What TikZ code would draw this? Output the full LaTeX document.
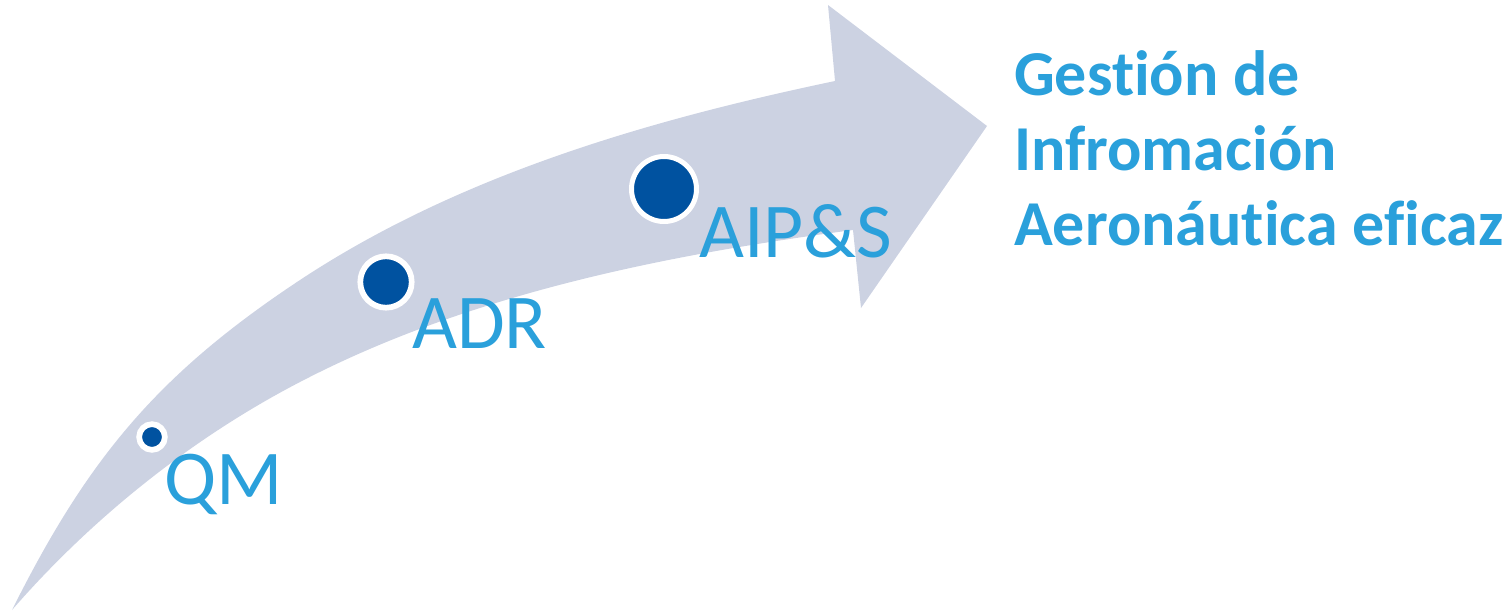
\documentclass[tikz,border=0pt]{standalone}
\usepackage{fontspec}
\setmainfont{Carlito}[Ligatures={TeX,NoCommon}]
\definecolor{arrowfill}{RGB}{204,210,226}
\definecolor{dotblue}{RGB}{0,82,160}
\definecolor{txtblue}{RGB}{42,160,219}
\newcommand{\nolig}{\kern0pt{}}
\begin{document}
\begin{tikzpicture}[x=1pt,y=-1pt,
  dot/.style={circle,fill=dotblue,draw=white,inner sep=0pt},
  lbl/.style={anchor=base west,inner sep=0pt,text=txtblue,font=\fontsize{77.6}{80}\selectfont},
  ttl/.style={anchor=base west,inner sep=0pt,text=txtblue,font=\bfseries\fontsize{64}{75}\selectfont}]
\useasboundingbox (0,0) rectangle (1510,613);
% curved arrow
\fill[arrowfill] (12,610)
  .. controls (88,458) and (158,374) .. (300,280)
  .. controls (459,175) and (649,120) .. (835,81)
  -- (828,5) -- (987,126) -- (861,308) -- (853,230)
  .. controls (665,255) and (469,294) .. (300,382)
  .. controls (192,438) and (92,518) .. (12,610)
  -- cycle;
% dots
\node[dot,minimum size=25.7pt,line width=5.7pt] (dqm) at (152,437) {};
\node[dot,minimum size=51.4pt,line width=5.7pt] (dadr) at (386,282) {};
\node[dot,minimum size=65pt,line width=5pt] (daip) at (664,189) {};
% labels
\node[lbl] (qm) at (164,504) {QM};
\node[lbl] (adr) at (412,348) {ADR};
\node[lbl] (aip) at (699,257) {AIP\&S};
% title
\node[ttl] (t1) at (1014,95) {Gest\nolig ión de};
\node[ttl] (t2) at (1014,170) {Infromación};
\node[ttl] (t3) at (1014,245) {Aeronáut\nolig ica ef\nolig icaz};
\end{tikzpicture}
\end{document}
